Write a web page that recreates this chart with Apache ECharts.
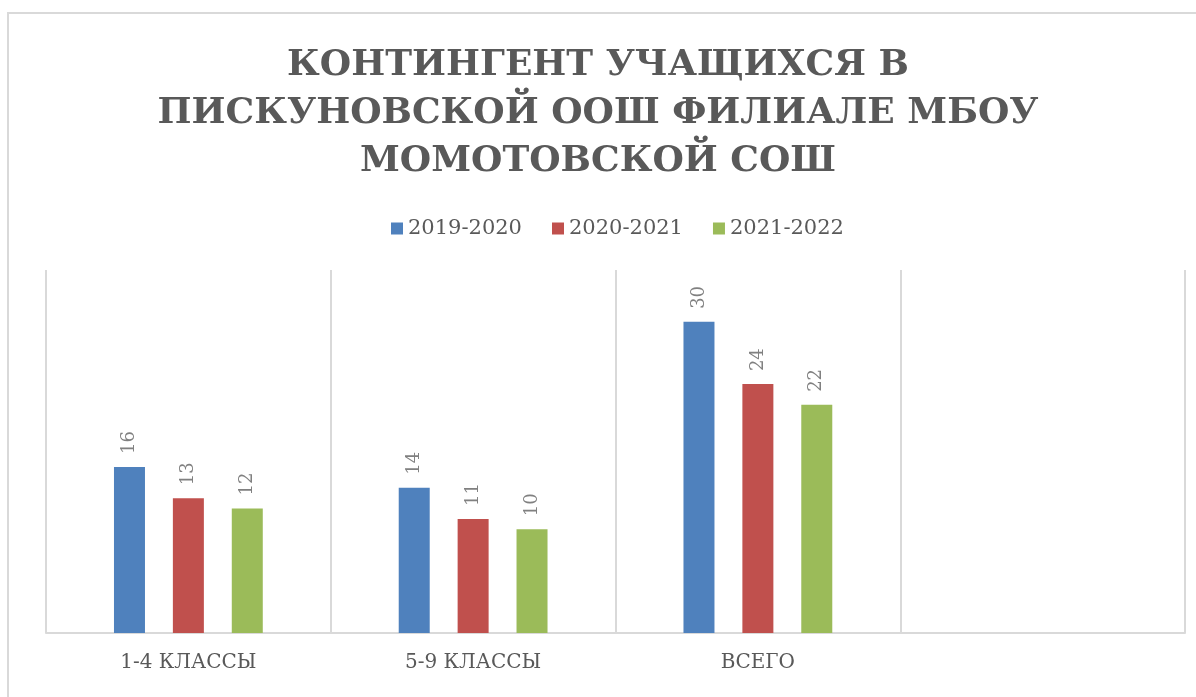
<!DOCTYPE html>
<html>
<head>
<meta charset="utf-8">
<script src="https://cdn.jsdelivr.net/npm/echarts@6/dist/echarts.min.js"></script>
<style>
  html, body { margin: 0; padding: 0; background: #fff; }
  #chart { width: 1196px; height: 697px; }
</style>
</head>
<body>
<div id="chart"></div>
<script>
// categories (the 4th slot is empty, as in the original)
const categories = ['1-4 КЛАССЫ', '5-9 КЛАССЫ', 'ВСЕГО', ''];
const seriesNames = ['2019-2020', '2020-2021', '2021-2022'];
const values2019 = [16, 14, 30, '-'];
const values2020 = [13, 11, 24, '-'];
const values2021 = [12, 10, 22, '-'];
const colors = ['#4f81bd', '#c0504d', '#9bbb59'];

const serif = '"DejaVu Serif", "Liberation Serif", serif';
const chart = echarts.init(document.getElementById('chart'));

function barSeries(name, data, color) {
    return {
        name: name,
        type: 'bar',
        data: data,
        barWidth: 31,
        barGap: '90%',
        itemStyle: { color: color },
        label: {
            show: true,
            position: 'top',
            rotate: 90,
            align: 'left',
            verticalAlign: 'middle',
            distance: 13,
            fontFamily: serif,
            fontSize: 18,
            color: '#808080'
        }
    };
}

chart.setOption({
    animation: false,
    title: {
        text: 'КОНТИНГЕНТ УЧАЩИХСЯ В\nПИСКУНОВСКОЙ ООШ ФИЛИАЛЕ МБОУ\nМОМОТОВСКОЙ СОШ',
        left: 'center',
        top: 37,
        textStyle: {
            fontFamily: serif,
            fontWeight: 'bold',
            fontSize: 36,
            lineHeight: 48,
            color: '#595959'
        }
    },
    legend: {
        top: 213,
        left: 386,
        itemWidth: 12,
        itemHeight: 12,
        itemGap: 30,
        icon: 'rect',
        textStyle: { fontFamily: serif, fontSize: 21, color: '#595959' },
        data: seriesNames
    },
    grid: { left: 46, right: 11, top: 270, bottom: 64 },
    xAxis: {
        type: 'category',
        data: categories,
        axisLine: { lineStyle: { color: '#d9d9d9', width: 2 } },
        axisTick: { show: false },
        splitLine: { show: true, lineStyle: { color: '#d9d9d9', width: 2 } },
        axisLabel: {
            margin: 20,
            fontFamily: serif,
            fontSize: 20,
            color: '#595959'
        }
    },
    yAxis: {
        type: 'value',
        min: 0,
        max: 35,
        show: false,
        splitLine: { show: false }
    },
    graphic: [{
        type: 'rect',
        shape: { x: 8, y: 13, width: 1250, height: 750 },
        style: { fill: 'none', stroke: '#d9d9d9', lineWidth: 2 },
        silent: true
    }],
    series: [
        barSeries(seriesNames[0], values2019, colors[0]),
        barSeries(seriesNames[1], values2020, colors[1]),
        barSeries(seriesNames[2], values2021, colors[2])
    ]
});
</script>
</body>
</html>
